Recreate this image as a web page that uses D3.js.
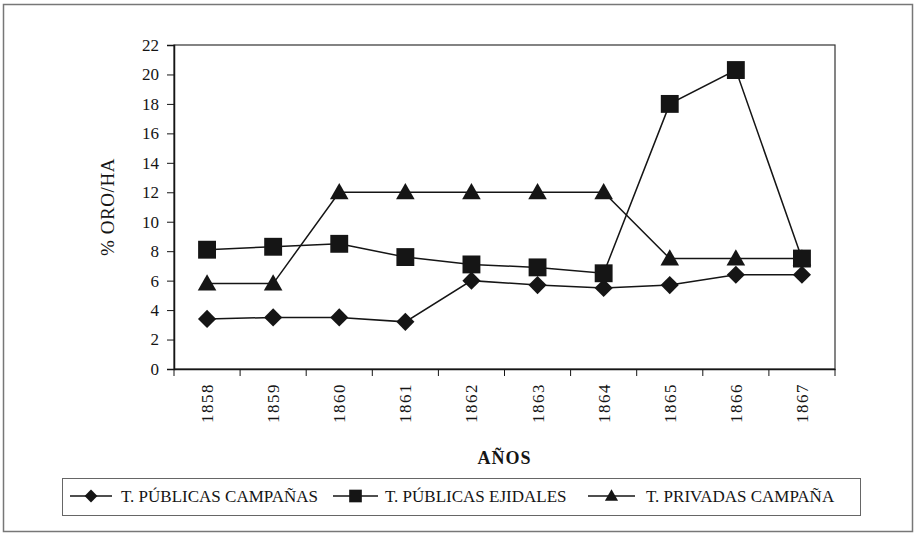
<!DOCTYPE html>
<html>
<head>
<meta charset="utf-8">
<script src="https://cdn.jsdelivr.net/npm/d3@7"></script>
<style>
  body { margin: 0; background: #fff; }
  svg { display: block; font-family: "Liberation Serif", "Times New Roman", serif; }
</style>
</head>
<body>
<svg width="915" height="536"></svg>
<script>
// datos
var years = ["1858", "1859", "1860", "1861", "1862", "1863", "1864", "1865", "1866", "1867"];
var campanas = [3.4, 3.5, 3.5, 3.2, 6.0, 5.7, 5.5, 5.7, 6.4, 6.4];
var ejidales = [8.1, 8.3, 8.5, 7.6, 7.1, 6.9, 6.5, 18.0, 20.3, 7.5];
var privadas = [5.8, 5.8, 12.0, 12.0, 12.0, 12.0, 12.0, 7.5, 7.5, 7.5];
var yTicks = [0, 2, 4, 6, 8, 10, 12, 14, 16, 18, 20, 22];
var seriesNames = ["T. PÚBLICAS CAMPAÑAS", "T. PÚBLICAS EJIDALES", "T. PRIVADAS CAMPAÑA"];

var svg = d3.select("svg"),
    ink = "#151515",
    serif = "'Liberation Serif', 'Times New Roman', serif",
    plotL = 174, plotR = 835, plotT = 45, plotB = 369;

// rombo = cuadrado girado 45 grados
var series = [
  { name: seriesNames[1], values: ejidales, shape: d3.symbolSquare, size: 320, rot: 0, dy: 0 },
  { name: seriesNames[0], values: campanas, shape: d3.symbolSquare, size: 165, rot: 45, dy: 0 },
  { name: seriesNames[2], values: privadas, shape: d3.symbolTriangle, size: 150, rot: 0, dy: 1.5 }
];
var legendOrder = [1, 0, 2];
var drawOrder = [2, 1, 0];

// marco exterior
svg.append("rect")
    .attr("x", 3.5).attr("y", 4.5)
    .attr("width", 909).attr("height", 527)
    .attr("fill", "none").attr("stroke", "#777").attr("stroke-width", 1.5);

var x = d3.scaleBand().domain(years).range([plotL, plotR]);
var y = d3.scaleLinear().domain([0, 22]).range([plotB, plotT]);

// area del grafico
svg.append("rect")
    .attr("x", plotL).attr("y", plotT)
    .attr("width", plotR - plotL).attr("height", plotB - plotT)
    .attr("fill", "none").attr("stroke", "#333").attr("stroke-width", 1.2);

var yAxis = svg.append("g")
    .attr("transform", "translate(" + plotL + ",0)")
    .call(d3.axisLeft(y).tickValues(yTicks).tickSize(7).tickPadding(8));

var xAxis = svg.append("g")
    .attr("transform", "translate(0," + plotB + ")")
    .call(d3.axisBottom(x).tickSize(0).tickFormat(""));

// marcas del eje x en los limites de categoria
xAxis.selectAll(".bound")
    .data(years.concat(["end"]))
    .enter().append("line")
    .attr("x1", function(d, i) { return plotL + i * x.step(); })
    .attr("x2", function(d, i) { return plotL + i * x.step(); })
    .attr("y1", 0).attr("y2", 7)
    .attr("stroke", ink);

xAxis.selectAll(".lbl")
    .data(years)
    .enter().append("text")
    .attr("transform", function(d) {
        return "translate(" + (x(d) + x.bandwidth() / 2 + 6) + ",14) rotate(-90)";
    })
    .attr("text-anchor", "end")
    .attr("fill", ink)
    .style("font-family", serif)
    .style("font-size", "17px")
    .style("letter-spacing", "1.5px")
    .text(function(d) { return d; });

[yAxis, xAxis].forEach(function(a) {
    a.attr("font-family", null);
    a.select(".domain").attr("stroke", ink).attr("stroke-width", 1.5);
    a.selectAll(".tick line").attr("stroke", ink);
    a.selectAll(".tick text").attr("fill", ink).style("font-size", "17px")
        .style("font-family", serif);
});

svg.append("text")
    .attr("transform", "translate(114," + ((plotT + plotB) / 2) + ") rotate(-90)")
    .attr("text-anchor", "middle")
    .attr("fill", ink)
    .style("font-size", "19px")
    .style("letter-spacing", "0.6px")
    .text("% ORO/HA");

svg.append("text")
    .attr("x", (plotL + plotR) / 2).attr("y", 464)
    .attr("text-anchor", "middle")
    .attr("fill", ink)
    .style("font-size", "18px")
    .style("font-weight", "bold")
    .style("letter-spacing", "1px")
    .text("AÑOS");

var line = d3.line()
    .x(function(d, i) { return x(years[i]) + x.bandwidth() / 2; })
    .y(function(d) { return y(d); });

drawOrder.forEach(function(k) {
    var s = series[k];
    var g = svg.append("g");
    g.append("path")
        .datum(s.values)
        .attr("d", line)
        .attr("fill", "none")
        .attr("stroke", ink)
        .attr("stroke-width", 1.5);
    g.selectAll("path.m")
        .data(s.values)
        .enter().append("path")
        .attr("class", "m")
        .attr("d", d3.symbol().type(s.shape).size(s.size))
        .attr("transform", function(d, i) {
            return "translate(" + (x(years[i]) + x.bandwidth() / 2) + "," + (y(d) + s.dy) + ") rotate(" + s.rot + ")";
        })
        .attr("fill", ink);
});

// leyenda
var legend = svg.append("g");
legend.append("rect")
    .attr("x", 62.5).attr("y", 478.5)
    .attr("width", 798).attr("height", 37)
    .attr("fill", "none").attr("stroke", "#666").attr("stroke-width", 1);

var legX = [70, 333, 588];
var legW = [42, 45, 47];
var legText = [121, 385, 646];
legendOrder.forEach(function(k, i) {
    var s = series[k];
    var item = legend.append("g").attr("transform", "translate(" + legX[i] + ",496)");
    item.append("line")
        .attr("x1", 0).attr("x2", legW[i])
        .attr("y1", 0).attr("y2", 0)
        .attr("stroke", ink).attr("stroke-width", 1.5);
    item.append("path")
        .attr("d", d3.symbol().type(s.shape).size(s.size * 0.5))
        .attr("transform", "translate(" + (legW[i] / 2) + "," + (s.dy * 0.6) + ") rotate(" + s.rot + ")")
        .attr("fill", ink);
    item.append("text")
        .attr("x", legText[i] - legX[i]).attr("y", 6)
        .attr("fill", ink)
        .style("font-size", "17px")
        .text(s.name);
});
</script>
</body>
</html>
